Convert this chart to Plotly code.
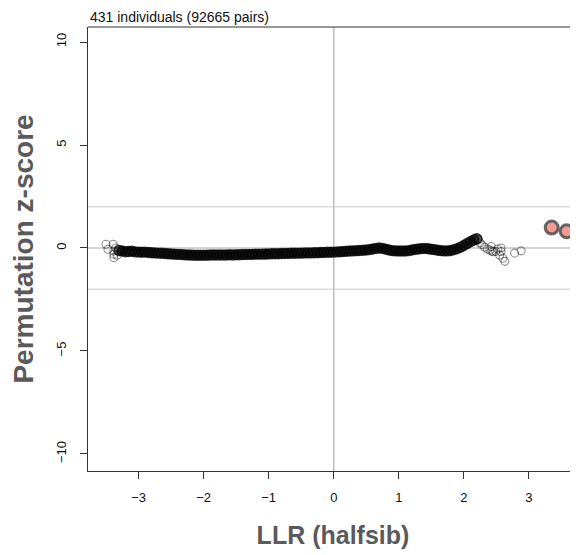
import plotly.graph_objects as go

# dense running curve of pairs (LLR vs permutation z-score)
band_x = [
    -3.30, -3.25, -3.20, -3.15, -3.10, -3.05, -3.00, -2.95, -2.90, -2.85,
    -2.80, -2.75, -2.70, -2.65, -2.60, -2.55, -2.50, -2.45, -2.40, -2.35,
    -2.30, -2.25, -2.20, -2.15, -2.10, -2.05, -2.00, -1.95, -1.90, -1.85,
    -1.80, -1.75, -1.70, -1.65, -1.60, -1.55, -1.50, -1.45, -1.40, -1.35,
    -1.30, -1.25, -1.20, -1.15, -1.10, -1.05, -1.00, -0.95, -0.90, -0.85,
    -0.80, -0.75, -0.70, -0.65, -0.60, -0.55, -0.50, -0.45, -0.40, -0.35,
    -0.30, -0.25, -0.20, -0.15, -0.10, -0.05, 0.00, 0.05, 0.10, 0.15,
    0.20, 0.25, 0.30, 0.35, 0.40, 0.45, 0.50, 0.55, 0.60, 0.65,
    0.70, 0.75, 0.80, 0.85, 0.90, 0.95, 1.00, 1.05, 1.10, 1.15,
    1.20, 1.25, 1.30, 1.35, 1.40, 1.45, 1.50, 1.55, 1.60, 1.65,
    1.70, 1.75, 1.80, 1.85, 1.90, 1.95, 2.00, 2.05, 2.10, 2.15, 2.20,
]
band_y = [
    -0.12, -0.15, -0.18, -0.17, -0.16, -0.19, -0.20, -0.21, -0.20, -0.22,
    -0.23, -0.24, -0.25, -0.26, -0.27, -0.28, -0.29, -0.30, -0.31, -0.32,
    -0.33, -0.34, -0.34, -0.35, -0.35, -0.35, -0.35, -0.35, -0.34, -0.34,
    -0.34, -0.34, -0.34, -0.34, -0.33, -0.34, -0.33, -0.33, -0.32, -0.32,
    -0.31, -0.31, -0.30, -0.30, -0.30, -0.29, -0.29, -0.28, -0.28, -0.28,
    -0.27, -0.27, -0.27, -0.26, -0.26, -0.25, -0.25, -0.24, -0.24, -0.24,
    -0.23, -0.23, -0.22, -0.22, -0.21, -0.21, -0.20, -0.19, -0.18, -0.17,
    -0.16, -0.15, -0.14, -0.13, -0.12, -0.11, -0.10, -0.08, -0.05, -0.02,
    0.00, -0.02, -0.06, -0.10, -0.13, -0.14, -0.15, -0.15, -0.15, -0.13,
    -0.10, -0.07, -0.05, -0.03, -0.02, -0.04, -0.06, -0.08, -0.11, -0.13,
    -0.14, -0.14, -0.12, -0.08, -0.03, 0.04, 0.12, 0.22, 0.30, 0.38, 0.45,
]

# sparse tails
tail_x = [-3.50, -3.39, -3.47, -3.38, -3.38, -3.38, -3.35, -3.33,
          2.17, 2.22, 2.25, 2.28, 2.32, 2.36, 2.40, 2.43, 2.45,
          2.42, 2.49, 2.57, 2.55, 2.60, 2.63, 2.57, 2.52, 2.78, 2.88]
tail_y = [0.18, 0.18, -0.06, -0.15, -0.47, -0.30, 0.00, -0.35,
          0.47, 0.40, 0.25, 0.15, 0.04, -0.05, -0.10, -0.15, -0.18,
          0.07, -0.17, 0.00, -0.34, -0.50, -0.65, -0.17, -0.05, -0.25, -0.14]

# highlighted pairs
hi_x = [3.35, 3.58]
hi_y = [0.99, 0.81]

x_ticks = [-3, -2, -1, 0, 1, 2, 3]
y_ticks = [-10, -5, 0, 5, 10]
ref_lines = [-2, 2]

FONT = "Liberation Sans, Arial, Helvetica, sans-serif"

fig = go.Figure()

fig.add_trace(go.Scatter(
    x=band_x, y=band_y, mode="markers", showlegend=False,
    marker=dict(size=10, color="rgba(0,0,0,0.6)",
                line=dict(color="rgba(0,0,0,0.7)", width=1.4)),
))
fig.add_trace(go.Scatter(
    x=tail_x, y=tail_y, mode="markers", showlegend=False,
    marker=dict(size=8, color="rgba(0,0,0,0)",
                line=dict(color="rgba(0,0,0,0.45)", width=1.1)),
))
fig.add_trace(go.Scatter(
    x=hi_x, y=hi_y, mode="markers", showlegend=False,
    marker=dict(size=13, color="#f29a94",
                line=dict(color="rgba(70,70,70,0.8)", width=3)),
))

# reference lines
for yv in ref_lines:
    fig.add_hline(y=yv, line=dict(color="#e0e0e0", width=1.5), layer="below")
fig.add_hline(y=0, line=dict(color="#c4c4c4", width=1.5), layer="below")
fig.add_vline(x=0, line=dict(color="#bdbdbd", width=1.5), layer="below")

# top border of the box
fig.add_shape(type="line", xref="paper", yref="paper", x0=0, x1=1, y0=1, y1=1,
              line=dict(color="#333333", width=1))

fig.add_annotation(text="431 individuals (92665 pairs)", xref="paper", yref="paper",
                   x=0, y=1, xanchor="left", yanchor="bottom", yshift=0,
                   showarrow=False, font=dict(size=14, color="#111111", family=FONT))

fig.update_xaxes(
    range=[-3.777, 3.754], tickvals=x_ticks, ticks="outside", ticklen=7,
    tickcolor="#333333", showline=True, linecolor="#333333", linewidth=1,
    showgrid=False, zeroline=False, tickfont=dict(size=13, color="#111111"),
    ticklabelstandoff=7,
    title=dict(text="<b>LLR (halfsib)</b>", font=dict(size=25, color="#5a5a5a"), standoff=22),
)
fig.update_yaxes(
    range=[-10.83, 10.73], tickvals=y_ticks, ticks="outside", ticklen=7,
    tickcolor="#333333", showline=True, linecolor="#333333", linewidth=1,
    showgrid=False, zeroline=False, tickangle=-90, tickfont=dict(size=13, color="#111111"),
    ticklabelstandoff=9,
    title=dict(text="<b>Permutation z-score</b>", font=dict(size=28, color="#5a5a5a"), standoff=13),
)

# page body adds an 8px offset, so the figure is sized to compensate
fig.update_layout(
    width=570, height=547,
    margin=dict(l=80, r=0, t=19, b=84, autoexpand=False),
    plot_bgcolor="white", paper_bgcolor="white",
    font=dict(family=FONT),
)

fig.write_html("out.html")
